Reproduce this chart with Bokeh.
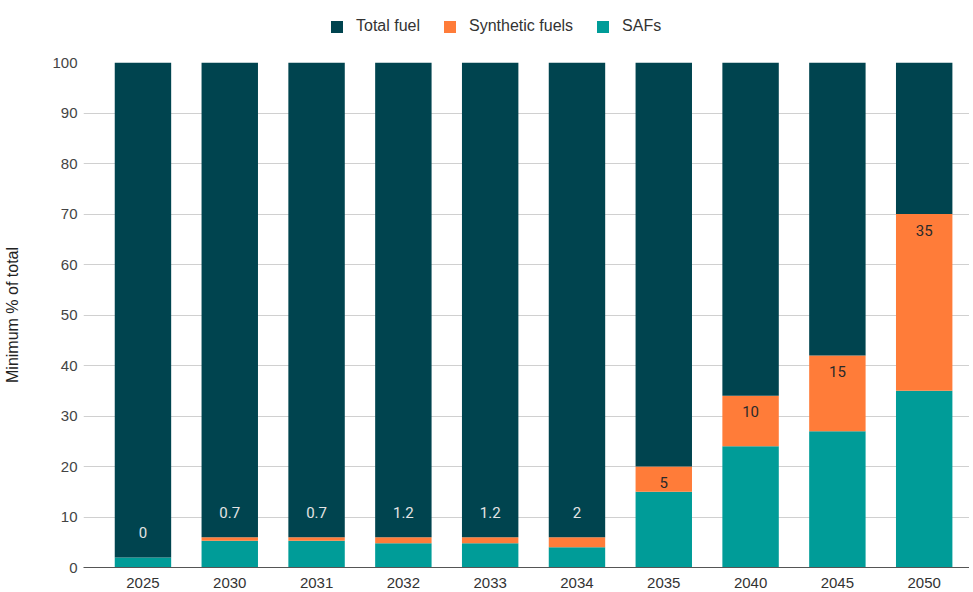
from bokeh.plotting import figure
from bokeh.layouts import column
from bokeh.models import ColumnDataSource, LabelSet, Legend, LegendItem, Range1d, FixedTicker
from bokeh.core.properties import value
from bokeh.embed import file_html
from bokeh.resources import INLINE

# ---- data ----
years = ["2025", "2030", "2031", "2032", "2033", "2034", "2035", "2040", "2045", "2050"]
safs = [2, 5.3, 5.3, 4.8, 4.8, 4, 15, 24, 27, 35]
synthetic = [0, 0.7, 0.7, 1.2, 1.2, 2, 5, 10, 15, 35]
total_fuel = [98, 94, 94, 94, 94, 94, 80, 66, 58, 30]
synthetic_labels = ["0", "0.7", "0.7", "1.2", "1.2", "2", "5", "10", "15", "35"]
y_ticks = [0, 10, 20, 30, 40, 50, 60, 70, 80, 90, 100]
series = ["SAFs", "Synthetic fuels", "Total fuel"]
legend_order = ["Total fuel", "Synthetic fuels", "SAFs"]
colors = {"SAFs": "#009c98", "Synthetic fuels": "#ff7c39", "Total fuel": "#00444f"}

x = list(range(len(years)))
src = ColumnDataSource(dict(x=x, years=years, **{"SAFs": safs, "Synthetic fuels": synthetic, "Total fuel": total_fuel}))
xr = Range1d(-0.685, 9.522)

# ---------------- legend strip on top ----------------
# (a view of the same stacked bars, scrolled out of sight; only its legend shows)
lg = figure(width=969, height=48, output_backend="svg", toolbar_location=None,
            x_range=xr, y_range=Range1d(1000, 1001),
            x_axis_location=None, y_axis_location=None,
            min_border_left=83, min_border_right=0, min_border_top=0, min_border_bottom=0)
lg.outline_line_color = None
lg.xgrid.grid_line_color = None
lg.ygrid.grid_line_color = None
lg_r = lg.vbar_stack(series, x="x", width=0.65, source=src,
                     color=[colors[s] for s in series], line_color=None)
swatches = dict(zip(series, lg_r))
legend = Legend(items=[LegendItem(label=s, renderers=[swatches[s]]) for s in legend_order],
                orientation="horizontal", location=(246, 13),
                glyph_width=15, glyph_height=15, label_standoff=12, spacing=22,
                padding=0, margin=0, border_line_color=None, background_fill_alpha=0,
                label_text_font="Liberation Sans", label_text_font_size="16px",
                label_text_color="#333333")
lg.add_layout(legend, "center")

# ---------------- main chart ----------------
p = figure(width=969, height=542, output_backend="svg", toolbar_location=None,
           x_range=xr, y_range=Range1d(0, 100),
           min_border_left=83, min_border_right=0, min_border_top=14, min_border_bottom=10)
p.outline_line_color = None

renderers = p.vbar_stack(series, x="x", width=0.65, source=src,
                         color=[colors[s] for s in series], line_color=None)

# data labels for synthetic fuels, positioned at the top of their segment
top = [s + y for s, y in zip(safs, synthetic)]
inside = [i for i in range(len(years)) if synthetic[i] >= 4]
outside = [i for i in range(len(years)) if synthetic[i] < 4]
src_in = ColumnDataSource(dict(x=[x[i] for i in inside], y=[top[i] for i in inside],
                               t=[synthetic_labels[i] for i in inside]))
src_out = ColumnDataSource(dict(x=[x[i] for i in outside], y=[top[i] for i in outside],
                                t=[synthetic_labels[i] for i in outside]))
p.add_layout(LabelSet(x="x", y="y", text="t", source=src_in, y_offset=-16,
                      text_align="center", text_baseline="middle", text_font=value("Roboto"),
                      text_font_size=value("15px"), text_color=value("#2a2a2a")))
p.add_layout(LabelSet(x="x", y="y", text="t", source=src_out, y_offset=25,
                      text_align="center", text_baseline="middle", text_font=value("Roboto"),
                      text_font_size=value("15px"), text_color=value("#e4e4e4")))

# axes
p.xaxis.ticker = FixedTicker(ticks=x)
p.xaxis.major_label_overrides = {i: y for i, y in zip(x, years)}
p.xaxis.major_tick_line_color = None
p.xaxis.major_tick_out = 0
p.xaxis.major_tick_in = 0
p.xaxis.minor_tick_line_color = None
p.xaxis.axis_line_color = "#555555"
p.xaxis.major_label_text_font = "Liberation Sans"
p.xaxis.major_label_text_font_size = "15px"
p.xaxis.major_label_text_color = "#333333"
p.xaxis.major_label_standoff = 10
p.xgrid.grid_line_color = None

p.yaxis.ticker = FixedTicker(ticks=y_ticks)
p.yaxis.axis_line_color = None
p.yaxis.major_tick_line_color = None
p.yaxis.major_tick_out = 0
p.yaxis.major_tick_in = 0
p.yaxis.minor_tick_line_color = None
p.yaxis.major_label_text_font = "Liberation Sans"
p.yaxis.major_label_text_font_size = "15px"
p.yaxis.major_label_text_color = "#444444"
p.yaxis.major_label_standoff = 6
p.yaxis.axis_label = "Minimum % of total"
p.yaxis.axis_label_text_font = "Liberation Sans"
p.yaxis.axis_label_text_font_size = "16px"
p.yaxis.axis_label_text_font_style = "normal"
p.yaxis.axis_label_text_color = "#222222"
p.yaxis.axis_label_standoff = 28
p.ygrid.grid_line_color = "#d0d0d0"

layout = column(lg, p, spacing=0)
open("out.html", "w").write(file_html(layout, INLINE))
